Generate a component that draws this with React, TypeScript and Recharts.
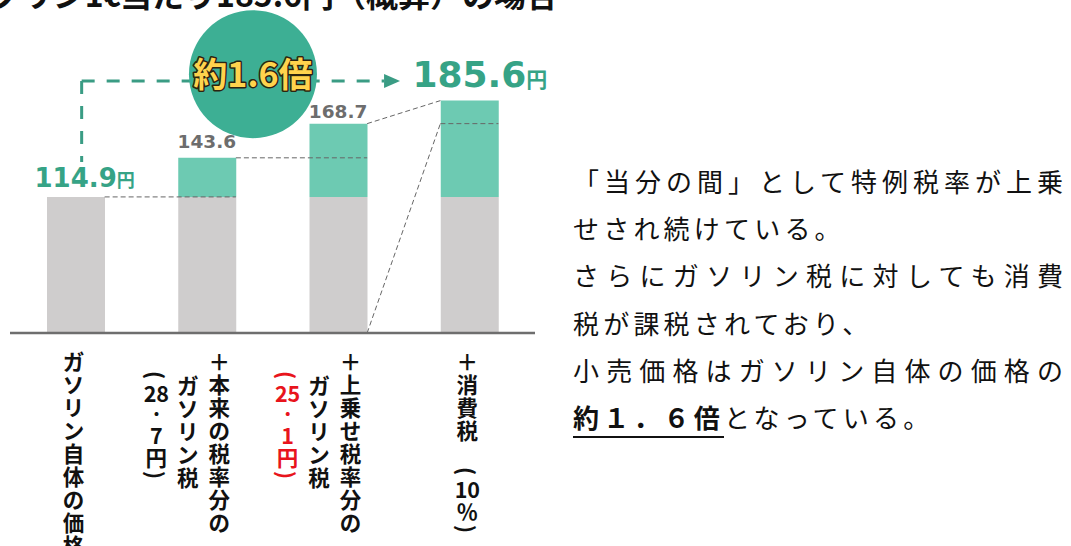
import React from 'react';
import { ComposedChart, Bar, Line, XAxis, YAxis, ReferenceLine, ReferenceDot, LabelList } from 'recharts';

// price build-up of 1 litre of gasoline (yen)
const POSITIONS = [0, 1, 2, 3];
const BASE_PRICE = [114.9, 114.9, 114.9, 114.9];
const TOTALS = [114.9, 143.6, 168.7, 185.6];
const RATIO_LABEL = '約1.6倍';
const TITLE = 'ガソリン1ℓ当たり185.6円（概算）の場合';

const TICK_COLUMNS = [
  ['ガソリン自体の価格'],
  ['＋本来の税率分の', 'ガソリン税', '（28.7円）'],
  ['＋上乗せ税率分の', 'ガソリン税', '（25.1円）'],
  ['＋消費税 （10％）'],
];

const SENTENCES = [
  ['「当分の間」として特例税率が上乗', 'せされ続けている。'],
  ['さらにガソリン税に対しても消費', '税が課税されており、'],
  ['小売価格はガソリン自体の価格の', '約１．６倍となっている。'],
];
const EMPHASIS = '約１．６倍';

const Y_MIN = 15;
const Y_MAX = 200;

const CHART_W = 560;
const CHART_H = 546;
const MARGIN = { top: 81, right: 25, bottom: 183, left: 10 };
const BAR_SIZE = 58;
const UNIT_W = (CHART_W - MARGIN.left - MARGIN.right) / POSITIONS.length;
const HW = BAR_SIZE / 2 / UNIT_W;

const GRAY = '#cfcdcd';
const TEAL_LIGHT = '#6dcab2';
const TEAL = '#36a386';
const TEAL_CIRCLE = '#3daf94';
const JP = "'Noto Sans CJK JP', sans-serif";
const NUM = "'DejaVu Sans', sans-serif";

const rows = POSITIONS.map((pos, i) => ({
  pos,
  base: BASE_PRICE[i],
  tax: +(TOTALS[i] - BASE_PRICE[i]).toFixed(1),
  total: TOTALS[i],
}));

const tokenize = (s: string) => s.match(/[0-9]+|./g) || [];
const tokenHeight = (t: string) => {
  if (t === '（' || t === '）') return 14;
  if (/^[0-9.]+$/.test(t)) return 21;
  return 23;
};

const COL_TOP = [8, 31.5, 27];

const VerticalTick = (props: any) => {
  const { x, y, payload } = props;
  const idx = payload.value;
  const cols = TICK_COLUMNS[idx] || [];
  return (
    <g>
      {cols.map((col, c) => {
        const cx = x + (cols.length === 1 ? -2 : 12.5 - 31.5 * c);
        const color = idx === 2 && c === 2 ? '#e8141c' : '#111';
        let cursor = y + COL_TOP[c];
        return tokenize(col).map((tok, t) => {
          const h = tokenHeight(tok);
          const cy = cursor + h / 2;
          cursor += h;
          if (tok === ' ') return null;
          const paren = tok === '（' || tok === '）';
          const glyph = tok === '（' ? '(' : tok === '）' ? ')' : tok;
          return (
            <text
              key={`${c}-${t}`}
              x={cx}
              y={tok === '.' ? cy - 7 : cy}
              textAnchor="middle"
              dominantBaseline="central"
              fill={color}
              fontSize={21.5}
              fontWeight={700}
              fontFamily={JP}
              transform={paren ? `rotate(90 ${cx} ${cy})` : undefined}
            >
              {glyph}
            </text>
          );
        });
      })}
    </g>
  );
};

const ValueLabel = (props: any) => {
  const vb = props.viewBox || props;
  const index = props.index;
  const cx = vb.x + (vb.width || 0) / 2;
  const top = vb.y;
  const text = TOTALS[index].toFixed(1);
  const last = index === TOTALS.length - 1;
  if (index === 0 || last) {
    const size = last ? 36 : 26;
    const yen = last ? 21 : 18;
    return (
      <text x={cx + yen / 2} y={top - (last ? 14 : 10)} textAnchor="middle" fill={TEAL} fontWeight={700}>
        <tspan fontFamily={NUM} fontSize={size}>{text}</tspan>
        <tspan fontFamily={JP} fontSize={yen}>円</tspan>
      </text>
    );
  }
  return (
    <text x={cx} y={top - (index === 1 ? 10 : 6)} textAnchor="middle" fill="#6d6d6d" fontWeight={700} fontFamily={NUM} fontSize={18.5}>
      {text}
    </text>
  );
};

const dashed = { stroke: '#666', strokeWidth: 1, strokeDasharray: '5 3', ifOverflow: 'visible' as const };
const arrow = { stroke: '#3a9c84', strokeWidth: 3, strokeDasharray: '13 12', ifOverflow: 'visible' as const };

export default function App() {
  return (
    <div style={{ position: 'fixed', left: 0, top: 0, width: 1071, height: 546, background: '#fff', overflow: 'hidden' }}>
      <div
        style={{
          position: 'absolute', right: 1071 - 558, top: -27, fontFamily: JP, fontWeight: 700,
          fontSize: 32, lineHeight: '40px', whiteSpace: 'nowrap', color: '#111',
        }}
      >
        {TITLE}
      </div>
      <ComposedChart width={CHART_W} height={CHART_H} data={rows} margin={MARGIN} style={{ position: 'absolute', left: 0, top: 0 }}>
        <XAxis
          dataKey="pos"
          type="number"
          domain={[-0.5, 3.5]}
          ticks={POSITIONS}
          height={30}
          tickLine={false}
          axisLine={{ stroke: '#6e6e6e', strokeWidth: 2.5 }}
          tick={<VerticalTick />}
          interval={0}
        />
        <YAxis hide domain={[Y_MIN, Y_MAX]} allowDataOverflow />
        <Bar dataKey="base" stackId="a" fill={GRAY} barSize={BAR_SIZE} isAnimationActive={false} />
        <Bar dataKey="tax" stackId="a" fill={TEAL_LIGHT} barSize={BAR_SIZE} isAnimationActive={false} />
        <Line dataKey="total" stroke="none" dot={false} activeDot={false} legendType="none" isAnimationActive={false}>
          <LabelList dataKey="total" content={<ValueLabel />} />
        </Line>

        <ReferenceLine segment={[{ x: 0 + HW, y: TOTALS[0] }, { x: 1 + HW, y: TOTALS[0] }]} {...dashed} />
        <ReferenceLine segment={[{ x: 1 + HW, y: TOTALS[1] }, { x: 2 + HW, y: TOTALS[1] }]} {...dashed} />
        <ReferenceLine segment={[{ x: 2 + HW, y: TOTALS[2] }, { x: 3 - HW, y: TOTALS[3] }]} {...dashed} />
        <ReferenceLine segment={[{ x: 2 + HW, y: Y_MIN }, { x: 3 - HW, y: TOTALS[2] }]} {...dashed} />
        <ReferenceLine segment={[{ x: 3 - HW, y: TOTALS[2] }, { x: 3 + HW, y: TOTALS[2] }]} {...dashed} />

        <ReferenceLine segment={[{ x: 0.046, y: Y_MAX }, { x: 0.046, y: 140.5 }]} {...arrow} />
        <ReferenceLine segment={[{ x: 0.046, y: Y_MAX }, { x: 2.35, y: Y_MAX }]} {...arrow} />
        <ReferenceDot
          x={2.35}
          y={Y_MAX}
          ifOverflow="visible"
          shape={(p: any) => <path d={`M${p.cx},${p.cy - 7} L${p.cx + 16},${p.cy} L${p.cx},${p.cy + 7} Z`} fill="#3a9c84" />}
        />
        <ReferenceDot
          x={1.351}
          y={205}
          ifOverflow="visible"
          shape={(p: any) => (
            <g>
              <circle cx={p.cx} cy={p.cy} r={64} fill={TEAL_CIRCLE} />
              <text
                x={p.cx}
                y={p.cy + 13}
                textAnchor="middle"
                fontFamily={JP}
                fontWeight={700}
                fontSize={34}
                fill="#ffd34d"
                stroke="#2b2410"
                strokeWidth={3}
                strokeLinejoin="round"
                paintOrder="stroke"
              >
                {RATIO_LABEL}
              </text>
            </g>
          )}
        />
      </ComposedChart>

      <div style={{ position: 'absolute', left: 573, top: 157, width: 490, fontFamily: JP, fontSize: 26, lineHeight: '47.2px', color: '#111' }}>
        {SENTENCES.map((pair, s) =>
          pair.map((line, l) => {
            const justify = l === 0;
            const k = line.indexOf(EMPHASIS);
            return (
              <div
                key={`${s}-${l}`}
                style={{
                  letterSpacing: justify ? 0 : 4.2,
                  textAlign: justify ? 'justify' : 'left',
                  textAlignLast: justify ? 'justify' : 'auto',
                  whiteSpace: justify ? 'normal' : 'nowrap',
                } as React.CSSProperties}
              >
                {k >= 0 ? (
                  <>
                    <span style={{ fontWeight: 700, borderBottom: '2.5px solid #111', paddingBottom: 1 }}>{EMPHASIS}</span>
                    {line.slice(k + EMPHASIS.length)}
                  </>
                ) : (
                  line
                )}
              </div>
            );
          })
        )}
      </div>
    </div>
  );
}
